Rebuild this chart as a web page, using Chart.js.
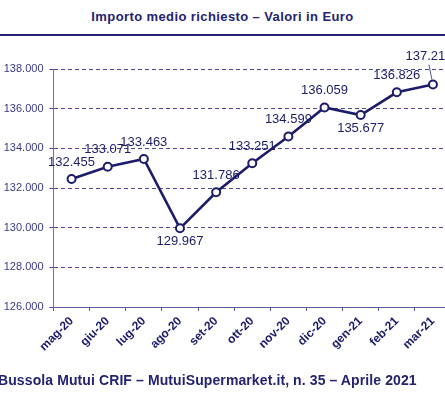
<!DOCTYPE html>
<html>
<head>
<meta charset="utf-8">
<script src="https://cdn.jsdelivr.net/npm/chart.js@4.4.1/dist/chart.umd.min.js"></script>
<style>
  html, body { margin: 0; padding: 0; background: #fff; overflow: hidden; }
  body { width: 445px; height: 395px; position: relative; font-family: "Liberation Sans", Arial, sans-serif; }
  #titolo { position: absolute; top: 9px; left: 0; width: 445px; text-align: center; font-size: 13px; font-weight: bold; color: #232370; letter-spacing: 0.4px; }
  #riga { position: absolute; top: 34px; left: 0; width: 445px; height: 2px; background: #232370; }
  #fonte { position: absolute; top: 372px; left: -2px; white-space: nowrap; font-size: 14px; font-weight: bold; color: #232370; letter-spacing: 0.1px; }
  #box { position: absolute; top: 0; left: 0; width: 458px; height: 395px; }
</style>
</head>
<body>
<div id="titolo">Importo medio richiesto – Valori in Euro</div>
<div id="riga"></div>
<div id="box"><canvas id="myChart"></canvas></div>
<div id="fonte">Bussola Mutui CRIF – MutuiSupermarket.it, n. 35 – Aprile 2021</div>
<script>
const mesi = ['mag-20','giu-20','lug-20','ago-20','set-20','ott-20','nov-20','dic-20','gen-21','feb-21','mar-21']
const importi = [132455, 133071, 133463, 129967, 131786, 133251, 134599, 136059, 135677, 136826, 137215]
const asseMin = 126000
const asseMax = 138000
const passo = 2000

const blu = '#1c1c6a'

function formatta(v){
    return String(v).replace(/\B(?=(\d{3})+(?!\d))/g, '.')
}

// etichette dei valori: sopra il punto, sotto se e' un minimo locale
const etichette = {
    id: 'etichette',
    afterDatasetsDraw(chart){
        const ctx = chart.ctx
        const punti = chart.getDatasetMeta(0).data
        const dati = chart.data.datasets[0].data
        ctx.save()
        ctx.font = '13px "Liberation Sans", Arial, sans-serif'
        ctx.fillStyle = blu
        ctx.textAlign = 'center'
        ctx.textBaseline = 'middle'
        punti.forEach((p, i) => {
            const v = dati[i]
            let x = p.x, y = p.y - 17
            if (i > 0 && i < dati.length-1 && v < dati[i-1] && v < dati[i+1]) y = p.y + 13
            if (i == dati.length-1) {
                x = p.x - 4
                y = p.y - 28
                ctx.strokeStyle = '#555590'
                ctx.lineWidth = 1
                ctx.beginPath()
                ctx.moveTo(p.x - 4, y + 8)
                ctx.lineTo(p.x - 1, p.y - 5)
                ctx.stroke()
            }
            ctx.fillText(formatta(v), x, y)
        })
        ctx.restore()
    }
}

const ctx2 = document.getElementById('myChart')
const grafico = new Chart(ctx2, {
    type: 'line',
    data: {
        labels: mesi,
        datasets: [{
            data: importi,
            borderColor: blu,
            borderWidth: 2.6,
            pointRadius: 4,
            pointBorderWidth: 2,
            pointBackgroundColor: '#fff',
            pointBorderColor: blu,
            tension: 0
        }]
    },
    options: {
        responsive: true,
        maintainAspectRatio: false,
        animation: false,
        layout: { padding: { top: 69, left: 0, right: 7, bottom: 8 } },
        plugins: {
            legend: { display: false },
            tooltip: { enabled: false }
        },
        scales: {
            x: {
                offset: true,
                afterFit(s){ s.height = 80 },
                grid: { drawOnChartArea: false, drawTicks: true, tickLength: 4, color: '#5a5a96', offset: true },
                border: { color: '#5a5a96', width: 1 },
                ticks: {
                    minRotation: 45, maxRotation: 45, padding: 3,
                    color: blu,
                    font: { family: '"Liberation Sans", Arial, sans-serif', size: 12, weight: 'bold' }
                }
            },
            y: {
                min: asseMin,
                max: asseMax,
                afterFit(s){ s.width = 53.5 },
                grid: { color: '#4a4a9a', lineWidth: 1, tickLength: 4, tickBorderDash: [] },
                border: { color: '#7070a8', width: 1, dash: [4, 3] },
                ticks: {
                    stepSize: passo,
                    padding: 6,
                    color: '#3a3a88',
                    font: { family: '"Liberation Sans", Arial, sans-serif', size: 11 },
                    callback: v => formatta(v)
                }
            }
        }
    },
    plugins: [etichette]
})
</script>
</body>
</html>
